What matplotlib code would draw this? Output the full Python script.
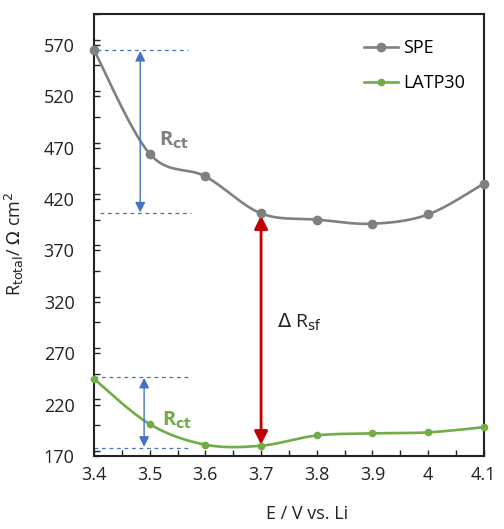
import numpy as np
import matplotlib
matplotlib.use("Agg")
import matplotlib.pyplot as plt
from matplotlib.ticker import MultipleLocator

plt.rcParams['font.family'] = ['Open Sans', 'DejaVu Sans']

# data
voltage = [3.4, 3.5, 3.6, 3.7, 3.8, 3.9, 4.0, 4.1]
r_spe = [565, 464, 442, 406, 400, 396, 405, 435]
r_latp = [245, 201, 181, 180, 190, 192, 193, 198]
x_ticks = [3.4, 3.5, 3.6, 3.7, 3.8, 3.9, 4.0, 4.1]
x_labels = ['3.4', '3.5', '3.6', '3.7', '3.8', '3.9', '4', '4.1']
y_ticks = [170, 220, 270, 320, 370, 420, 470, 520, 570]

GRAY = '#808080'
GREEN = '#70AD47'
BLUE = '#4472C4'
RED = '#C00000'
INK = '#222222'

XLIM = (3.4, 4.1)
YLIM = (170, 600)


def smooth(x, y, n=30):
    # Excel-like smoothed line: cubic bezier with tangent/6 control points,
    # computed in normalised axis space
    x = np.asarray(x, float)
    y = np.asarray(y, float)
    sx = XLIM[1] - XLIM[0]
    sy = YLIM[1] - YLIM[0]
    P = np.column_stack([(x - XLIM[0]) / sx, (y - YLIM[0]) / sy])
    out = [P[0]]
    for i in range(len(P) - 1):
        p0 = P[i - 1] if i > 0 else P[i]
        p1 = P[i]
        p2 = P[i + 1]
        p3 = P[i + 2] if i + 2 < len(P) else P[i + 1]
        c1 = p1 + (p2 - p0) / 6
        c2 = p2 - (p3 - p1) / 6
        t = np.linspace(0, 1, n)[1:, None]
        seg = ((1 - t) ** 3) * p1 + 3 * ((1 - t) ** 2) * t * c1 + 3 * (1 - t) * t ** 2 * c2 + t ** 3 * p2
        out.extend(seg)
    out = np.array(out)
    return out[:, 0] * sx + XLIM[0], out[:, 1] * sy + YLIM[0]


fig = plt.figure(figsize=(5.04, 5.29), dpi=100)
ax = fig.add_axes([0.1865, 0.138, 0.7735, 0.8355])

sx, sy = smooth(voltage, r_spe)
ax.plot(sx, sy, color=GRAY, lw=1.9, zorder=3)
ax.plot(voltage, r_spe, 'o', color=GRAY, ms=6, zorder=4, clip_on=False)
lx, ly = smooth(voltage, r_latp)
ax.plot(lx, ly, color=GREEN, lw=1.9, zorder=3)
ax.plot(voltage, r_latp, 'o', color=GREEN, ms=4.5, zorder=4, clip_on=False)

# legend
ax.plot([], [], '-o', color=GRAY, lw=1.9, ms=6, label='SPE')
ax.plot([], [], '-o', color=GREEN, lw=1.9, ms=4.5, label='LATP30')
ax.legend(loc='upper left', bbox_to_anchor=(0.652, 0.98), frameon=False,
          fontsize=13, handlelength=1.85, handletextpad=0.3, labelspacing=0.95)

# dashed guide lines
dash = dict(color=BLUE, lw=0.9, ls=(0, (3, 3)))
ax.plot([3.405, 3.568], [565, 565], **dash)
ax.plot([3.41, 3.575], [406, 406], **dash)
ax.plot([3.4, 3.568], [247, 247], **dash)
ax.plot([3.4, 3.575], [178, 178], **dash)

# R_ct arrows
ax.annotate('', xy=(3.483, 564), xytext=(3.483, 407),
            arrowprops=dict(arrowstyle='<|-|>', color=BLUE, lw=1.0,
                            mutation_scale=15, shrinkA=0, shrinkB=0))
ax.annotate('', xy=(3.49, 246), xytext=(3.49, 179),
            arrowprops=dict(arrowstyle='<|-|>', color=BLUE, lw=1.0,
                            mutation_scale=15, shrinkA=0, shrinkB=0))
ax.text(3.517, 477, r'R$_{\mathbf{ct}}$', color=GRAY, fontsize=14.5,
        fontweight='bold', ha='left', va='center')
ax.text(3.522, 205, r'R$_{\mathbf{ct}}$', color=GREEN, fontsize=14.5,
        fontweight='bold', ha='left', va='center')

# delta R_sf arrow
ax.annotate('', xy=(3.7, 404), xytext=(3.7, 181),
            arrowprops=dict(arrowstyle='<|-|>', color=RED, lw=2.0,
                            mutation_scale=20, shrinkA=0, shrinkB=0))
ax.text(3.728, 300, r'$\Delta$ R$_{\mathrm{sf}}$', color=INK, fontsize=14,
        ha='left', va='center')

ax.set_xlim(*XLIM)
ax.set_ylim(*YLIM)
ax.set_xticks(x_ticks)
ax.set_xticklabels(x_labels)
ax.set_yticks(y_ticks)
ax.xaxis.set_minor_locator(MultipleLocator(0.05))
ax.yaxis.set_minor_locator(MultipleLocator(25))
ax.tick_params(which='both', direction='in', length=4, width=1.0,
               labelsize=13, colors=INK)
ax.tick_params(axis='x', pad=7)
ax.tick_params(axis='y', pad=14)
for s in ax.spines.values():
    s.set_linewidth(1.5)
    s.set_color(INK)

ax.set_xlabel('E / V vs. Li', fontsize=13, color=INK)
ax.xaxis.set_label_coords(0.546, -0.111)
ax.set_ylabel(r'R$_{\mathrm{total}}$/ $\Omega$ cm$^2$', fontsize=13, color=INK)
ax.yaxis.set_label_coords(-0.175, 0.48)

fig.savefig('out.png', dpi=100)
